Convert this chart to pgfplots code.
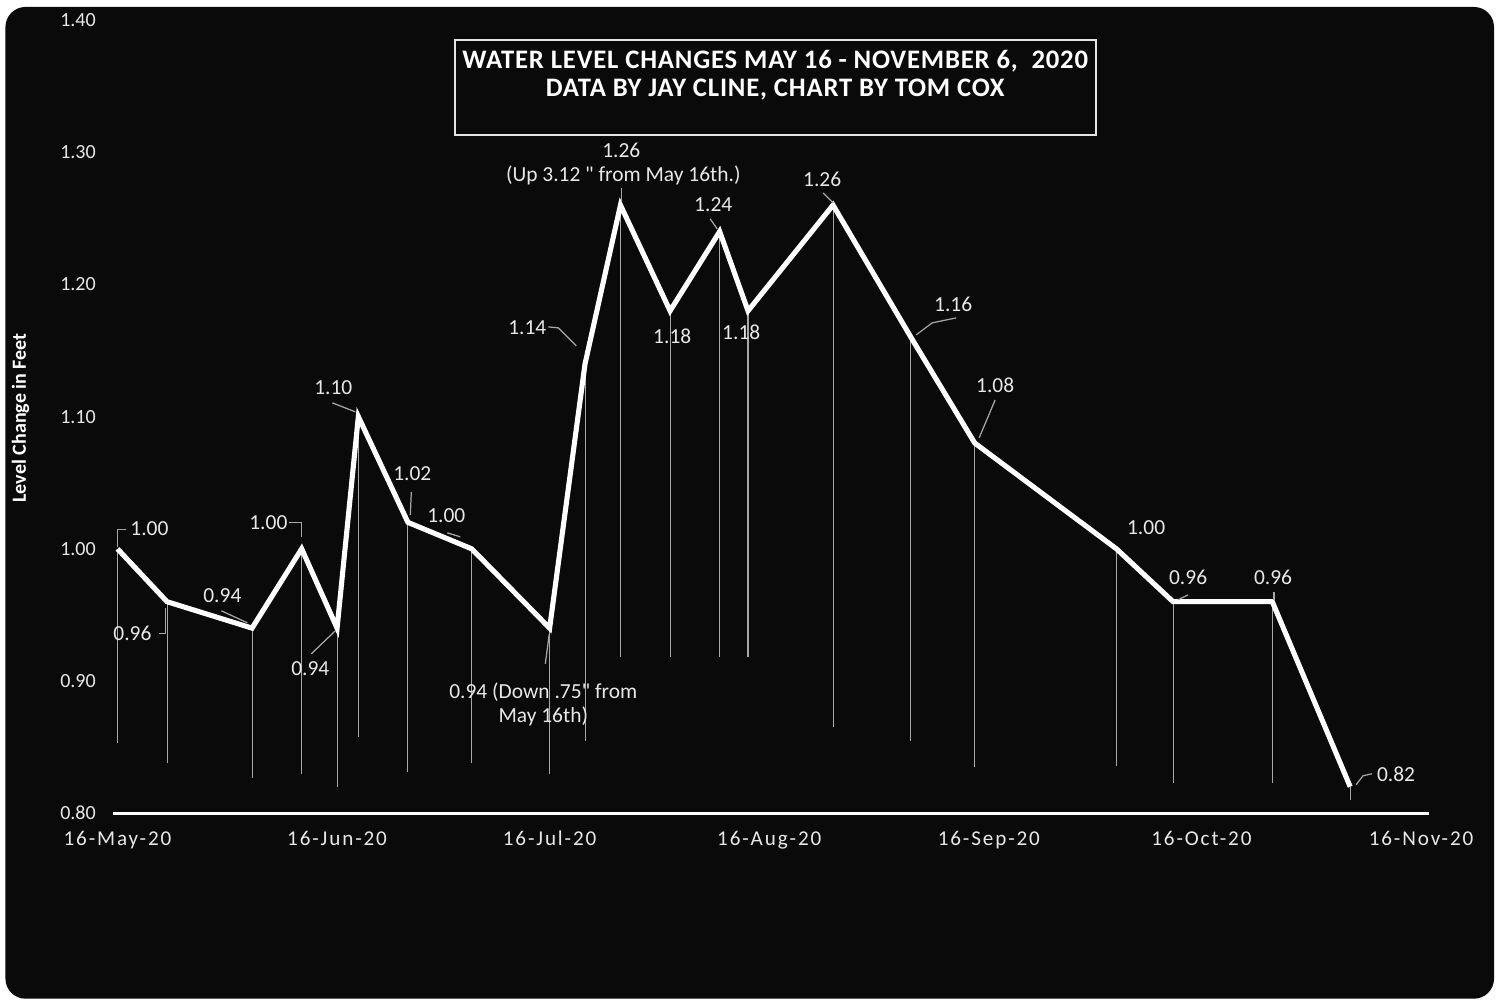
\documentclass[border=0pt]{standalone}
\usepackage{pgfplots}
\pgfplotsset{compat=1.18}
\usepackage{fontspec}
\setmainfont{Carlito}
\definecolor{bg}{HTML}{0A0A0A}
\definecolor{lbl}{HTML}{E8E8E8}
\definecolor{drop}{HTML}{A8A8A8}

\begin{document}
\begin{tikzpicture}
\begin{scope}[shift={(-1.13cm,8.13cm)},x=0.01cm,y=-0.01cm]
\path[use as bounding box] (0,0) rectangle (1501,1001);
\fill[white] (0,0) rectangle (1501,1001);
\fill[bg, rounded corners=0.2cm] (5,7) rectangle (1494,999);
\end{scope}
\begin{axis}[
  scale only axis, width=13.15cm, height=7.93cm,
  xmin=-0.56, xmax=185.1, ymin=0.8, ymax=1.4,
  clip=false,
  axis x line*=bottom, axis y line*=left,
  y axis line style={draw=none},
  x axis line style={white, line width=0.9pt, -},
  major tick length=0pt,
  /pgf/number format/assume math mode=true,
  xtick={0,31,61,92,123,153,184},
  xticklabels={16-May-20,16-Jun-20,16-Jul-20,16-Aug-20,16-Sep-20,16-Oct-20,16-Nov-20},
  xticklabel style={font=\fontsize{6}{7}\selectfont\addfontfeature{LetterSpace=9}, text=lbl, anchor=base, inner sep=0pt, yshift=-0.325cm},
  ytick={0.8,0.9,1.0,1.1,1.2,1.3,1.4},
  yticklabel style={font=\fontsize{5.7}{7}\selectfont, text=lbl, anchor=east, inner sep=0pt, xshift=-0.17cm,
    /pgf/number format/fixed, /pgf/number format/fixed zerofill, /pgf/number format/precision=2},
]
\addplot[draw=none, forget plot, mark=none,
  error bars/.cd, y dir=minus, y explicit, error mark=none,
  error bar style={draw=drop, line width=0.3pt}]
  table[x=d, y=v, y error=e] {
d v e
0 1.00 0.147
7 0.96 0.122
19 0.94 0.113
26 1.00 0.170
31 0.94 0.120
34 1.10 0.242
41 1.02 0.189
50 1.00 0.162
61 0.94 0.110
66 1.14 0.285
71 1.26 0.342
78 1.18 0.262
85 1.24 0.322
89 1.18 0.262
101 1.26 0.395
112 1.16 0.305
121 1.08 0.245
141 1.00 0.164
149 0.96 0.137
163 0.96 0.137
174 0.82 0.010
};
\addplot[white, line width=1.45pt, mark=none] table[x=d, y=v] {
d v
0 1.00
7 0.96
19 0.94
26 1.00
31 0.94
34 1.10
41 1.02
50 1.00
61 0.94
66 1.14
71 1.26
78 1.18
85 1.24
89 1.18
101 1.26
112 1.16
121 1.08
141 1.00
149 0.96
163 0.96
174 0.82
};
\end{axis}
\begin{scope}[shift={(-1.13cm,8.13cm)},x=0.01cm,y=-0.01cm]
% title box
\draw[white!90!black, line width=0.6pt] (455,40) rectangle (1096,135);
\node[text=white, font=\bfseries\fontsize{7.6}{8.6}\selectfont\addfontfeature{LetterSpace=3}] at (775,61) {WATER LEVEL CHANGES MAY 16 - NOVEMBER 6,\ \ 2020};
\node[text=white, font=\bfseries\fontsize{7.6}{8.6}\selectfont\addfontfeature{LetterSpace=3}] at (775,90) {DATA BY JAY CLINE, CHART BY TOM COX};
% y label
\node[rotate=90, text=white, font=\bfseries\fontsize{5.7}{7}\selectfont] at (20,418) {Level Change in Feet};
% leader lines
\begin{scope}[draw=drop, line width=0.35pt]
\draw (117,547)--(117,530)--(126,530);
\draw (159,634)--(165,634)--(165,608);
\draw (221,611)--(247,623);
\draw (289,523)--(301,523)--(301,537);
\draw (311,654)--(335,631);
\draw (332,403)--(355,412);
\draw (411,492)--(410,515);
\draw (447,533)--(460,537);
\draw (549,634)--(545,664);
\draw (548,327)--(558,328)--(576,346);
\draw (621,188)--(621,201);
\draw (710,219)--(717,229);
\draw (823,193)--(833,203);
\draw (956,318)--(932,323)--(916,335);
\draw (995,400)--(979,438);
\draw (1188,595)--(1178,600);
\draw (1274,592)--(1274,600);
\draw (1372,774)--(1363,776)--(1356,785);
\end{scope}
% data labels
\begin{scope}[every node/.style={text=lbl, font=\fontsize{6.1}{7.5}\selectfont, inner sep=0pt}]
\node at (149,529) {1.00};
\node at (132,634) {0.96};
\node at (222,596) {0.94};
\node at (268,523) {1.00};
\node at (310,669) {0.94};
\node at (333,388) {1.10};
\node at (412,474) {1.02};
\node at (446,516) {1.00};
\node at (543,692) {0.94 (Down .75\textquotedbl{} from};
\node at (543,717) {May 16th)};
\node at (527,328) {1.14};
\node at (621,150) {1.26};
\node at (623,175) {(Up 3.12 \textquotedbl{} from May 16th.)};
\node at (672,336) {1.18};
\node at (713,205) {1.24};
\node at (741,332) {1.18};
\node at (822,179) {1.26};
\node at (953,304) {1.16};
\node at (995,385) {1.08};
\node at (1146,528) {1.00};
\node at (1188,578) {0.96};
\node at (1273,578) {0.96};
\node at (1396,775) {0.82};
\end{scope}
\end{scope}
\end{tikzpicture}
\end{document}
